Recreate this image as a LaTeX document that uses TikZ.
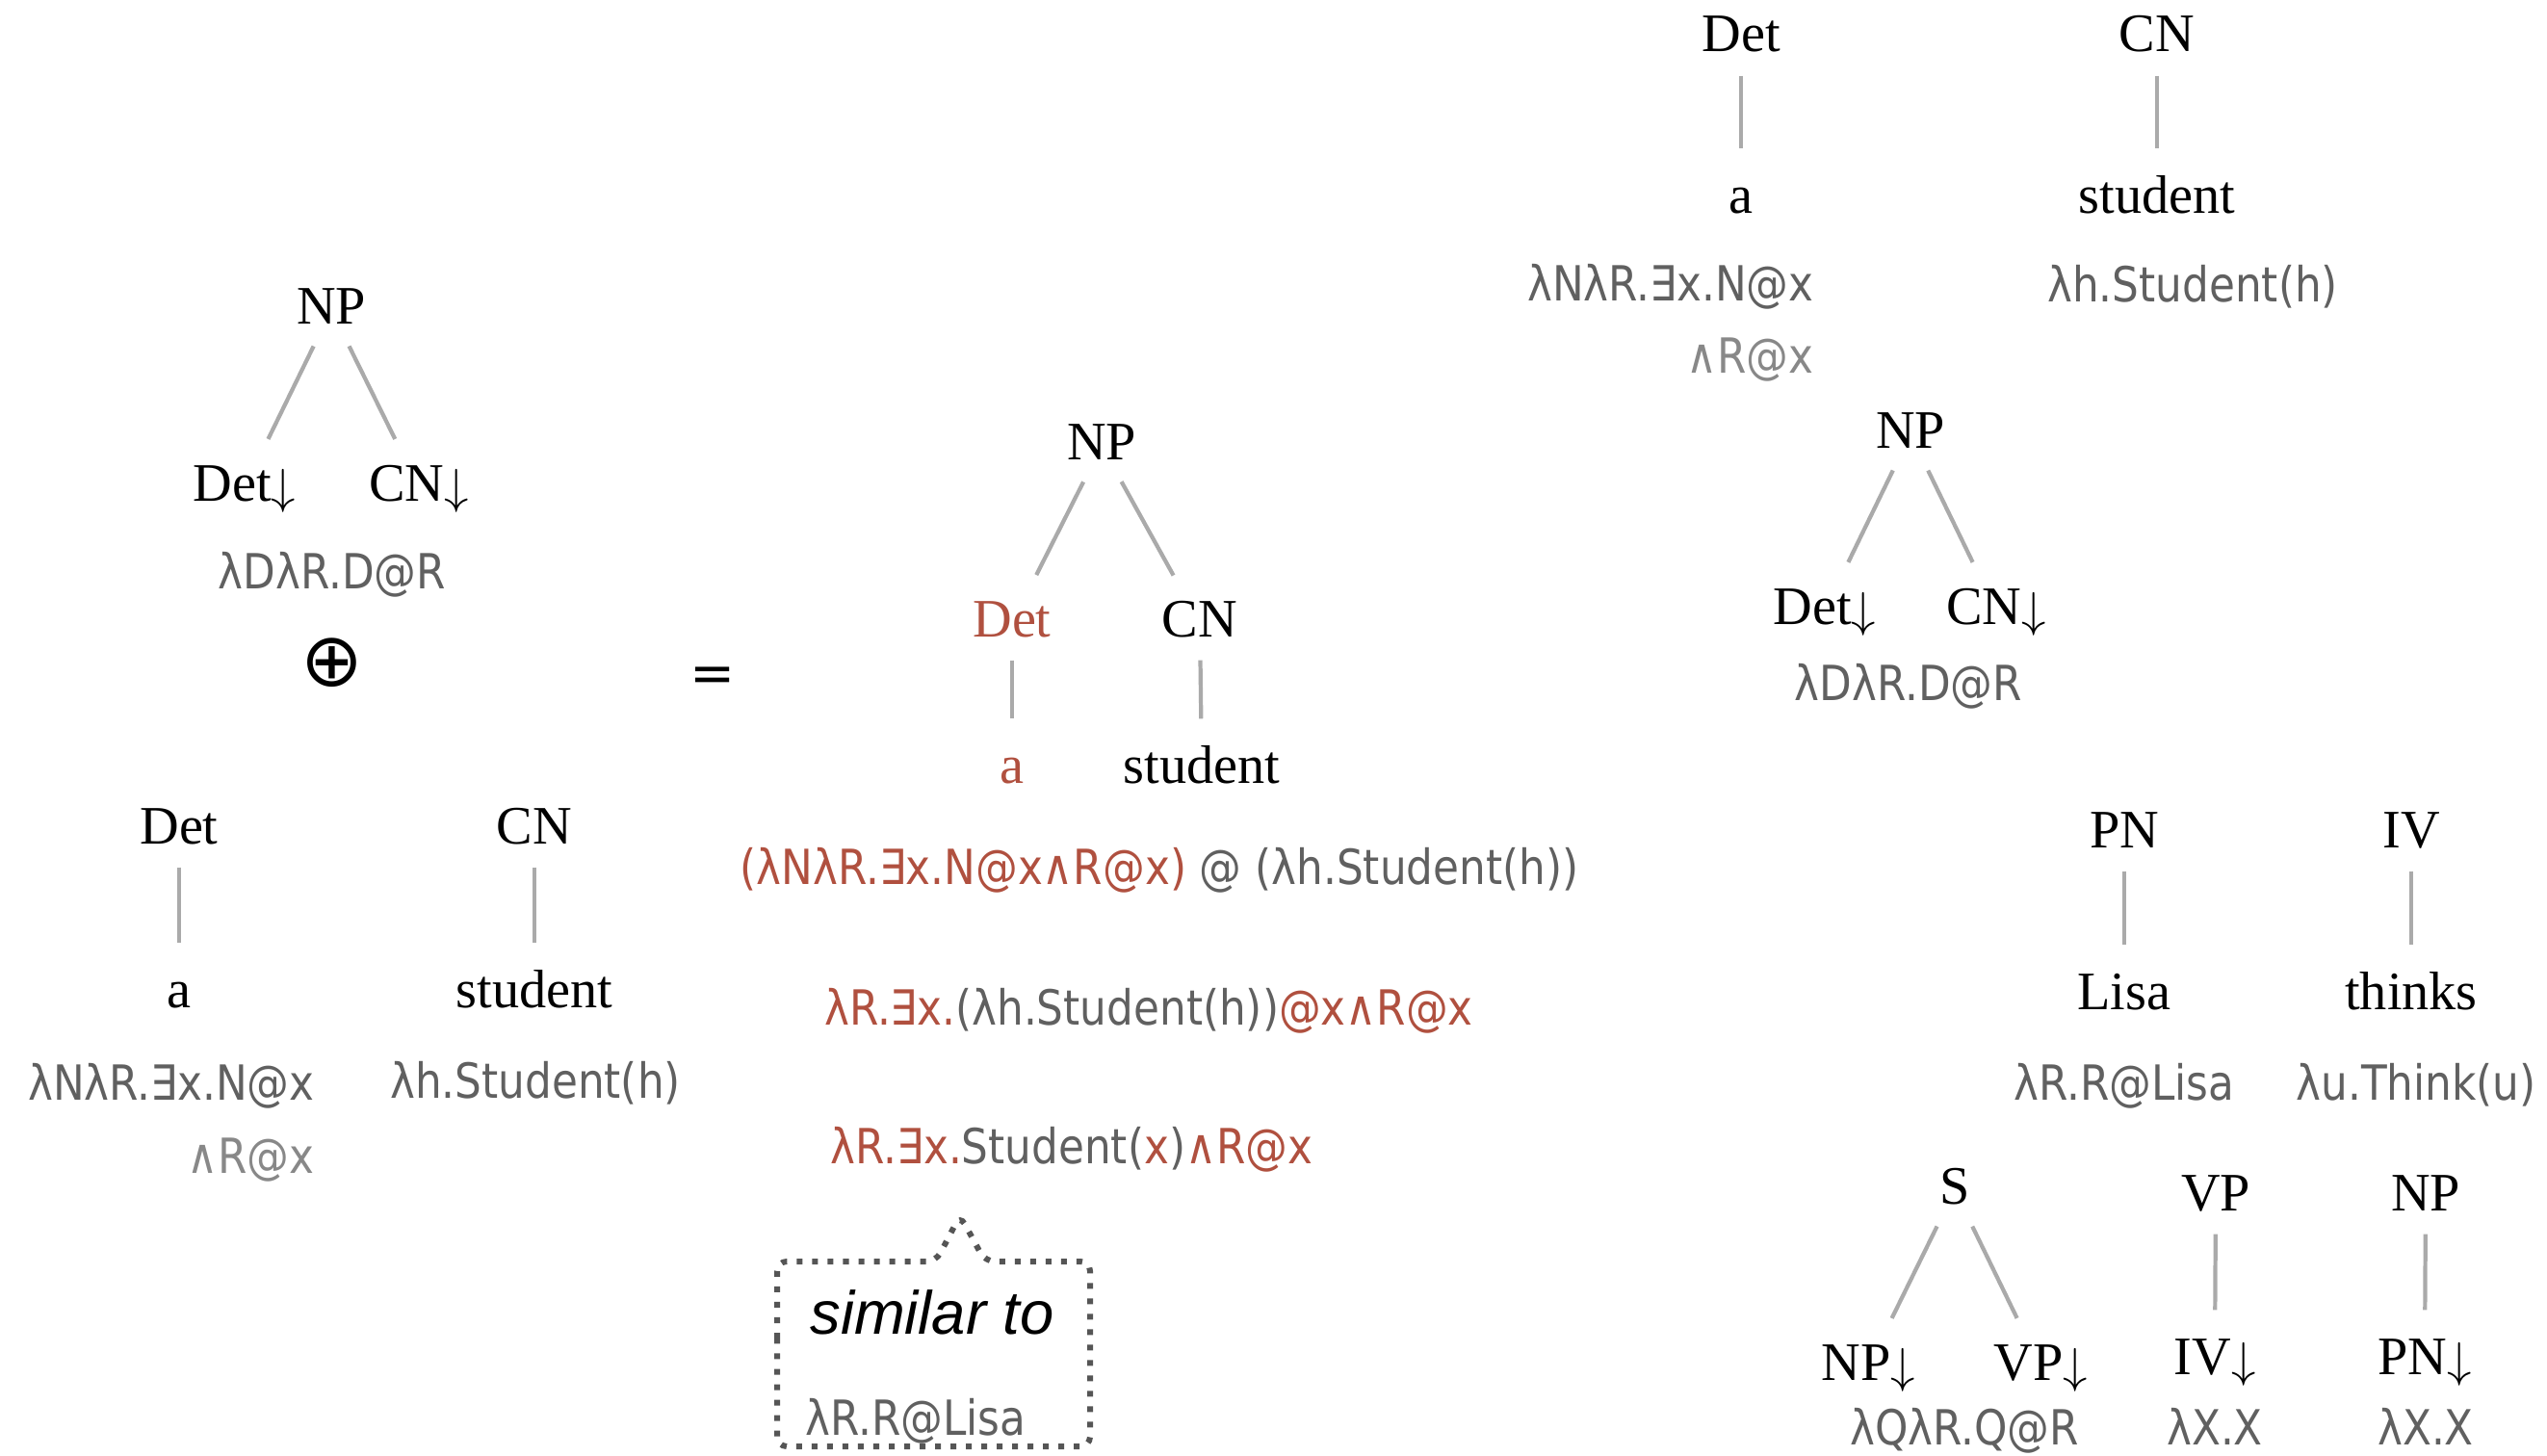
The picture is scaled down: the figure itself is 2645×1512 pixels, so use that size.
\documentclass[tikz,border=0pt]{standalone}
\usepackage{fontspec}
\setmainfont{Liberation Serif}
\newfontfamily\semfont[FakeStretch=0.87]{DejaVu Sans}
\newfontfamily\symfont{DejaVu Sans}
\newfontfamily\notefont{Liberation Sans}
\usetikzlibrary{positioning}

\definecolor{semgray}{HTML}{606060}
\definecolor{hired}{HTML}{B0503F}
\definecolor{edgegray}{HTML}{AAAAAA}
\definecolor{dotgray}{HTML}{555555}

\newcommand{\dn}{\raisebox{-0.02cm}{\fontsize{15}{15}\selectfont$\downarrow$}}
\newcommand{\hl}[1]{\textcolor{hired}{#1}}

\begin{document}
\begin{tikzpicture}[
    x=0.01cm, y=-0.01cm,
    cat/.style={
        font=\fontsize{16}{18}\selectfont,
        anchor=base,
        inner sep=0pt,
        text height=0.4cm,
        text depth=0.12cm
    },
    sem/.style={
        font=\semfont\fontsize{14.3}{16}\selectfont,
        text=semgray,
        anchor=base,
        inner sep=0pt
    },
    note/.style={
        font=\notefont\itshape\fontsize{18}{20}\selectfont,
        anchor=base,
        inner sep=0pt
    },
    edge/.style={
        draw=edgegray,
        line width=1.2pt,
        shorten <=0.12cm,
        shorten >=0.26cm
    },
    callout/.style={
        draw=dotgray,
        line width=0.06cm,
        dash pattern=on 0.06cm off 0.1cm,
        rounded corners=0.1cm
    }
]
\useasboundingbox (0,0) rectangle (2645,1512);

% Elementary tree NP
\node [cat] (npA) at (344,336) {NP};
\node [cat] (detA) at (254,520) {Det\dn};
\node [cat] (cnA) at (435,520) {CN\dn};
\node [sem] (semA) at (345,611) {λDλR.D@R};
\node [font=\symfont\fontsize{22}{24}\selectfont] (plus) at (345,688) {⊕};
\node [font=\symfont\fontsize{16}{18}\selectfont] (eq) at (740,706) {=};

% Lexical trees
\node [cat] (detB) at (186,876) {Det};
\node [cat] (cnB) at (555,876) {CN};
\node [cat] (aB) at (186,1046) {a};
\node [cat] (stB) at (555,1046) {student};
\node [sem, anchor=base east] (semaB) at (327,1142) {λNλR.∃x.N@x};
\node [sem, anchor=base east, text=semgray!75] (semaB2) at (327,1218) {∧R@x};
\node [sem] (semsB) at (556,1140) {λh.Student(h)};

% Result tree
\node [cat] (npC) at (1144,477) {NP};
\node [cat, text=hired] (detC) at (1051,661) {Det};
\node [cat] (cnC) at (1246,661) {CN};
\node [cat, text=hired] (aC) at (1051,813) {a};
\node [cat] (stC) at (1248,813) {student};

% Reduction steps
\node [sem] (stepA) at (1204,918) {\hl{(λNλR.∃x.N@x∧R@x)} @ (λh.Student(h))};
\node [sem] (stepB) at (1193,1064) {\hl{λR.∃x.}(λh.Student(h))\hl{@x∧R@x}};
\node [sem] (stepC) at (1113,1208) {\hl{λR.∃x.}Student(\hl{x})\hl{∧R@x}};

% Callout
\node [note] (simTxt) at (968,1385) {similar to};
\node [sem] (simSem) at (951,1490) {λR.R@Lisa};
\draw [callout] (807,1400) -- (807,1310) -- (972,1310) -- (997,1262) -- (1023,1310)
    -- (1132,1310) -- (1132,1502) -- (807,1502) -- cycle;

% Top right trees
\node [cat] (detD) at (1808,54) {Det};
\node [cat] (cnD) at (2240,54) {CN};
\node [cat] (aD) at (1808,221) {a};
\node [cat] (stD) at (2240,221) {student};
\node [sem, anchor=base east] (semaD) at (1884,312) {λNλR.∃x.N@x};
\node [sem, anchor=base east, text=semgray!75] (semaD2) at (1884,387) {∧R@x};
\node [sem] (semsD) at (2277,313) {λh.Student(h)};

\node [cat] (npE) at (1984,465) {NP};
\node [cat] (detE) at (1895,648) {Det\dn};
\node [cat] (cnE) at (2073,648) {CN\dn};
\node [sem] (semE) at (1982,727) {λDλR.D@R};

\node [cat] (pnF) at (2206,880) {PN};
\node [cat] (ivF) at (2504,880) {IV};
\node [cat] (lisaF) at (2206,1048) {Lisa};
\node [cat] (thF) at (2504,1048) {thinks};
\node [sem] (semLisa) at (2206,1142) {λR.R@Lisa};
\node [sem] (semTh) at (2509,1142) {λu.Think(u)};

% Bottom right trees
\node [cat] (sG) at (2030,1250) {S};
\node [cat] (npG) at (1940,1433) {NP\dn};
\node [cat] (vpG) at (2119,1433) {VP\dn};
\node [sem] (semG) at (2040,1500) {λQλR.Q@R};
\node [cat] (vpH) at (2301,1257) {VP};
\node [cat] (ivH) at (2300,1427) {IV\dn};
\node [sem] (semH) at (2300,1500) {λX.X};
\node [cat] (npI) at (2519,1257) {NP};
\node [cat] (pnI) at (2518,1427) {PN\dn};
\node [sem] (semI) at (2519,1500) {λX.X};

% Connections
\path [edge] (npA) -- (detA);
\path [edge] (npA) -- (cnA);
\path [edge] (detB) -- (aB);
\path [edge] (cnB) -- (stB);

\path [edge] (npC) -- (detC);
\path [edge] (npC) -- (cnC);
\path [edge] (detC) -- (aC);
\path [edge] (cnC) -- (stC);

\path [edge] (detD) -- (aD);
\path [edge] (cnD) -- (stD);
\path [edge] (npE) -- (detE);
\path [edge] (npE) -- (cnE);
\path [edge] (pnF) -- (lisaF);
\path [edge] (ivF) -- (thF);

\path [edge] (sG) -- (npG);
\path [edge] (sG) -- (vpG);
\path [edge] (vpH) -- (ivH);
\path [edge] (npI) -- (pnI);

\end{tikzpicture}
\end{document}
